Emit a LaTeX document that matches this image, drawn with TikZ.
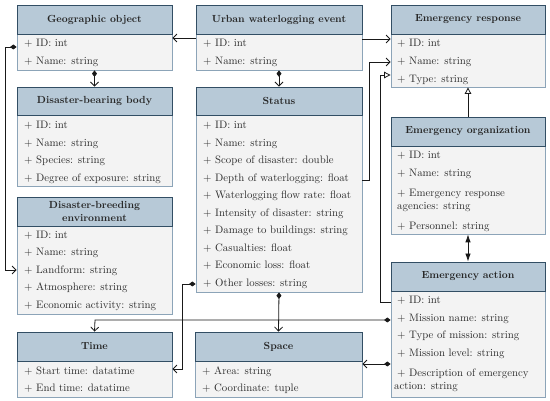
\documentclass[tikz,border=0pt]{standalone}
\usetikzlibrary{arrows.meta}
\definecolor{hdrfill}{RGB}{183,201,215}
\definecolor{hdrline}{RGB}{50,78,100}
\definecolor{bodyfill}{RGB}{243,243,243}
\definecolor{bodyline}{RGB}{140,164,184}
\definecolor{rowtext}{RGB}{45,45,45}
\begin{document}
\begin{tikzpicture}[x=1pt,y=-1pt,
  hdr/.style={draw=hdrline, fill=hdrfill, line width=0.9pt, inner sep=0pt, align=center,
    font=\bfseries\fontsize{10.3}{12.5}\selectfont, text=black!85},
  bodybox/.style={draw=bodyline, fill=bodyfill, line width=0.8pt, inner sep=0pt},
  row/.style={anchor=base west, inner sep=0pt, font=\fontsize{10.8}{13}\selectfont, text=rowtext},
  conn/.style={line width=0.8pt, draw=black!90},
  barb/.style={conn, -{Straight Barb[length=4pt,width=8pt]}},
  diabarb/.style={conn, {Diamond[length=6.5pt,width=5pt]}-{Straight Barb[length=4pt,width=8pt]}},
  tri/.style={conn, -{Triangle[open,length=6.5pt,width=6.5pt,fill=white]}},
  dbl/.style={conn, {Latex[length=8pt,width=5.5pt]}-{Latex[length=8pt,width=5.5pt]}}
]
\useasboundingbox (0,0) rectangle (550,401);
\fill[white] (0,0) rectangle (550,401);

% ---------- Geographic object
\node[bodybox, minimum width=155pt, minimum height=36pt] (gob) at (94.5,52) {};
\node[hdr, minimum width=155pt, minimum height=29pt] (go) at (94.5,19.5) {Geographic object};
\node[row] (go1) at (24,47) {+ ID: int};
\node[row] (go2) at (24,65) {+ Name: string};

% ---------- Disaster-bearing body
\node[bodybox, minimum width=155pt, minimum height=71pt] (dbbb) at (94.5,150.5) {};
\node[hdr, minimum width=155pt, minimum height=28pt] (dbb) at (94.5,101) {Disaster-bearing body};
\node[row] (dbb1) at (24,129) {+ ID: int};
\node[row] (dbb2) at (24,146.5) {+ Name: string};
\node[row] (dbb3) at (24,164) {+ Species: string};
\node[row] (dbb4) at (24,181.5) {+ Degree of exposure: string};

% ---------- Disaster-breeding environment
\node[bodybox, minimum width=155pt, minimum height=88pt] (dbeb) at (94.5,270) {};
\node[hdr, minimum width=155pt, minimum height=29pt] (dbe) at (94.5,211.5) {Disaster-breeding\\environment};
\node[row] (dbe1) at (24,238.5) {+ ID: int};
\node[row] (dbe2) at (24,256) {+ Name: string};
\node[row] (dbe3) at (24,273.5) {+ Landform: string};
\node[row] (dbe4) at (24,291) {+ Atmosphere: string};
\node[row] (dbe5) at (24,308.5) {+ Economic activity: string};

% ---------- Time
\node[bodybox, minimum width=155pt, minimum height=36pt] (timeb) at (94.5,379) {};
\node[hdr, minimum width=155pt, minimum height=29pt] (time) at (94.5,346.5) {Time};
\node[row] (time1) at (24,374) {+ Start time: datatime};
\node[row] (time2) at (24,391.5) {+ End time: datatime};

% ---------- Urban waterlogging event
\node[bodybox, minimum width=166pt, minimum height=36pt] (uweb) at (279,52) {};
\node[hdr, minimum width=166pt, minimum height=29pt] (uwe) at (279,19.5) {Urban waterlogging event};
\node[row] (uwe1) at (203,47) {+ ID: int};
\node[row] (uwe2) at (203,65) {+ Name: string};

% ---------- Status
\node[bodybox, minimum width=166pt, minimum height=177pt] (stb) at (279,203.5) {};
\node[hdr, minimum width=166pt, minimum height=28pt] (st) at (279,101) {Status};
\node[row] (st1) at (203,129) {+ ID: int};
\node[row] (st2) at (203,146.5) {+ Name: string};
\node[row] (st3) at (203,164) {+ Scope of disaster: double};
\node[row] (st4) at (203,181.5) {+ Depth of waterlogging: float};
\node[row] (st5) at (203,199) {+ Waterlogging flow rate: float};
\node[row] (st6) at (203,216.5) {+ Intensity of disaster: string};
\node[row] (st7) at (203,234) {+ Damage to buildings: string};
\node[row] (st8) at (203,251.5) {+ Casualties: float};
\node[row] (st9) at (203,269) {+ Economic loss: float};
\node[row] (st10) at (203,286.5) {+ Other losses: string};

% ---------- Space
\node[bodybox, minimum width=167pt, minimum height=36pt] (spb) at (278.5,379) {};
\node[hdr, minimum width=167pt, minimum height=29pt] (sp) at (278.5,346.5) {Space};
\node[row] (sp1) at (202,374) {+ Area: string};
\node[row] (sp2) at (202,391.5) {+ Coordinate: tuple};

% ---------- Emergency response
\node[bodybox, minimum width=154pt, minimum height=53pt] (erb) at (468,60.5) {};
\node[hdr, minimum width=154pt, minimum height=29pt] (er) at (468,19.5) {Emergency response};
\node[row] (er1) at (397,47) {+ ID: int};
\node[row] (er2) at (397,65) {+ Name: string};
\node[row] (er3) at (397,82.5) {+ Type: string};

% ---------- Emergency organization
\node[bodybox, minimum width=154pt, minimum height=88pt] (eob) at (468,190) {};
\node[hdr, minimum width=154pt, minimum height=29pt] (eo) at (468,131.5) {Emergency organization};
\node[row] (eo1) at (397,159) {+ ID: int};
\node[row] (eo2) at (397,177) {+ Name: string};
\node[row] (eo3) at (397,197) {+ Emergency response};
\node[row] (eo3b) at (397,210) {agencies: string};
\node[row] (eo4) at (397,230) {+ Personnel: string};

% ---------- Emergency action
\node[bodybox, minimum width=154pt, minimum height=106pt] (eab) at (468,344) {};
\node[hdr, minimum width=154pt, minimum height=29pt] (ea) at (468,276.5) {Emergency action};
\node[row] (ea1) at (397,304) {+ ID: int};
\node[row] (ea2) at (397,322) {+ Mission name: string};
\node[row] (ea3) at (397,339) {+ Type of mission: string};
\node[row] (ea4) at (397,356.5) {+ Mission level: string};
\node[row] (ea5) at (397,377) {+ Description of emergency};
\node[row] (ea5b) at (394,390) {action: string};

% ---------- connector bend points
\coordinate (c1) at (5,47);
\coordinate (c2) at (5,270);
\coordinate (c3) at (369,180);
\coordinate (c4) at (369,62);
\coordinate (c5) at (380,302);
\coordinate (c6) at (380,75);
\coordinate (c7) at (182,284);
\coordinate (c8) at (182,369);
\coordinate (c9) at (95,320);

% ---------- connectors
\draw[barb] (uweb.west |- 0,38) -- (gob.east |- 0,38);
\draw[barb] (uweb.east |- 0,39) -- (erb.west |- 0,39);
\draw[diabarb] (gob.south) -- (dbb.north);
\draw[diabarb] (uweb.south) -- (st.north);
\draw[diabarb] (gob.west |- c1) -- (c1) -- (c2) -- (dbeb.west |- c2);
\draw[barb] (stb.east |- c3) -- (c3) -- (c4) -- (erb.west |- c4);
\draw[tri] (eab.west |- c5) -- (c5) -- (c6) -- (erb.west |- c6);
\draw[tri] (eo.north) -- (erb.south);
\draw[dbl] (eob.south) -- (ea.north);
\draw[diabarb] (stb.west |- c7) -- (c7) -- (c8) -- (timeb.east |- c8);
\draw[diabarb] (stb.south) -- (sp.north);
\draw[diabarb] (eab.west |- c9) -- (c9) -- (time.north);
\draw[diabarb] (eab.west |- 0,364) -- (spb.east |- 0,364);
\end{tikzpicture}
\end{document}
